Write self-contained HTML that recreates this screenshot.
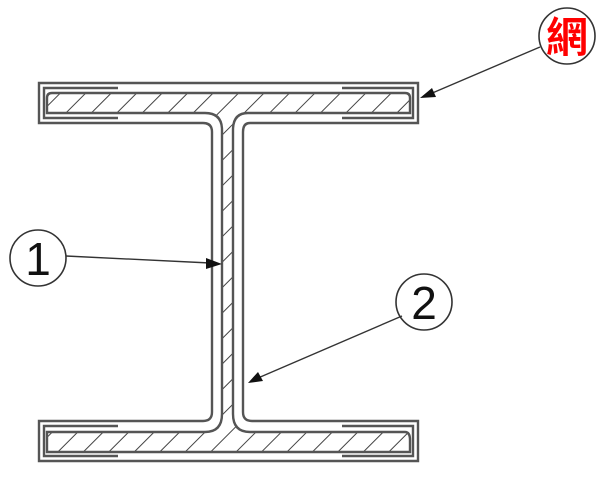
<!DOCTYPE html>
<html><head><style>html,body{margin:0;padding:0;background:#fff}svg{display:block}</style></head>
<body>
<svg width="603" height="480" viewBox="0 0 603 480" xmlns="http://www.w3.org/2000/svg">
<defs>
<pattern id="h" patternUnits="userSpaceOnUse" width="18" height="18" patternTransform="rotate(45)">
<line x1="0" y1="0" x2="0" y2="18" stroke="#444" stroke-width="2"/>
</pattern>
</defs>
<g fill="none" stroke="#555" stroke-width="2.4">
<path d="M39,83 H418 V123 H250 Q243,123 243,132 V412 Q243,421 252,421 H418 V461 H39 V421 H203 Q212,421 212,412 V132 Q212,123 203,123 H39 Z"/>
<path d="M118,88 H44 V118 H118 M342,88 H413 V118 H342" />
<path d="M118,426 H44 V456 H118 M342,426 H413 V456 H342" />
<path fill="url(#h)" d="M52,93 H405 Q410,93 410,98 V113 H248 Q233,113 233,130 V414 Q233,432 250,432 H405 Q410,432 410,440 V452 H47 V432 H205 Q222,432 222,414 V130 Q222,113 205,113 H47 V98 Q47,93 52,93 Z"/>
</g>
<g stroke="#333" stroke-width="1.6" fill="#fff">
<circle cx="567" cy="36" r="28"/>
<circle cx="38" cy="258" r="28"/>
<circle cx="424" cy="302" r="28"/>
</g>
<g stroke="#333" stroke-width="1.4">
<line x1="540" y1="47" x2="430" y2="94"/>
<line x1="66" y1="256" x2="210" y2="263"/>
<line x1="402" y1="316" x2="258" y2="378"/>
</g>
<g fill="#111">
<polygon points="420,98 432,88 436,97"/>
<polygon points="222,264 206,258 206,269"/>
<polygon points="248,383 258,372 263,381"/>
</g>
<text x="567" y="52" text-anchor="middle" font-family="'Liberation Sans','Noto Sans CJK TC',sans-serif" font-size="42" font-weight="bold" fill="#f00">網</text>
<text x="38" y="275" text-anchor="middle" font-family="'Liberation Sans',sans-serif" font-size="46" fill="#111">1</text>
<text x="424" y="319" text-anchor="middle" font-family="'Liberation Sans',sans-serif" font-size="46" fill="#111">2</text>
</svg>
</body></html>
